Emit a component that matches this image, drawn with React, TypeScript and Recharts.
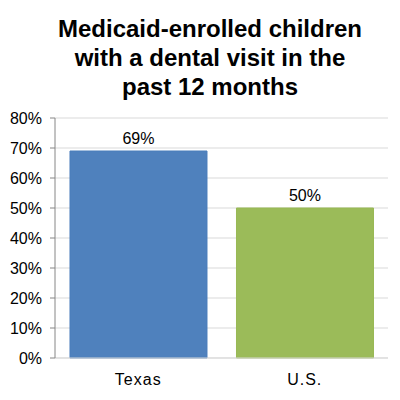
import React from "react";
import { BarChart, Bar, XAxis, YAxis, CartesianGrid, LabelList, Cell } from "recharts";

const categories = ["Texas", "U.S."];
const values = [69, 50];
const colors = ["#4F81BD", "#9BBB59"];
const strokes = ["#4A7EBB", "#98B954"];
const yTicks = [0, 10, 20, 30, 40, 50, 60, 70, 80];
const titleLines = ["Medicaid-enrolled children", "with a dental visit in the", "past 12 months"];

const data = categories.map((c, i) => ({ name: c, value: values[i] }));

export default function App() {
  return (
    <div style={{ position: "absolute", left: 0, top: 0, width: 400, height: 400, background: "#fff", fontFamily: "Arial, 'Liberation Sans', sans-serif" }}>
      <div style={{ position: "absolute", left: 10, top: 14, width: 400, textAlign: "center", fontWeight: "bold", fontSize: 24, lineHeight: "29px", color: "#000" }}>
        {titleLines.map((l, i) => (
          <div key={i}>{l}</div>
        ))}
      </div>
      <BarChart width={400} height={400} data={data} margin={{ top: 118, right: 12, bottom: 0, left: 0 }} barCategoryGap="9%">
        <CartesianGrid vertical={false} stroke="#D9D9D9" />
        <XAxis
          dataKey="name"
          height={42}
          tickLine={false}
          axisLine={{ stroke: "#D9D9D9" }}
          tick={{ fill: "#000", fontSize: 16, letterSpacing: 1 }}
          tickMargin={10}
        />
        <YAxis
          width={55}
          domain={[0, 80]}
          ticks={yTicks}
          tickFormatter={(v) => `${v}%`}
          axisLine={{ stroke: "#868686" }}
          tickLine={{ stroke: "#868686" }}
          tickSize={5}
          tickMargin={8}
          tick={{ fill: "#000", fontSize: 16 }}
        />
        <Bar dataKey="value" isAnimationActive={false}>
          {data.map((d, i) => (
            <Cell key={d.name} fill={colors[i]} stroke={strokes[i]} />
          ))}
          <LabelList dataKey="value" position="top" offset={7} formatter={(v) => `${v}%`} style={{ fill: "#000", fontSize: 16 }} />
        </Bar>
      </BarChart>
    </div>
  );
}
